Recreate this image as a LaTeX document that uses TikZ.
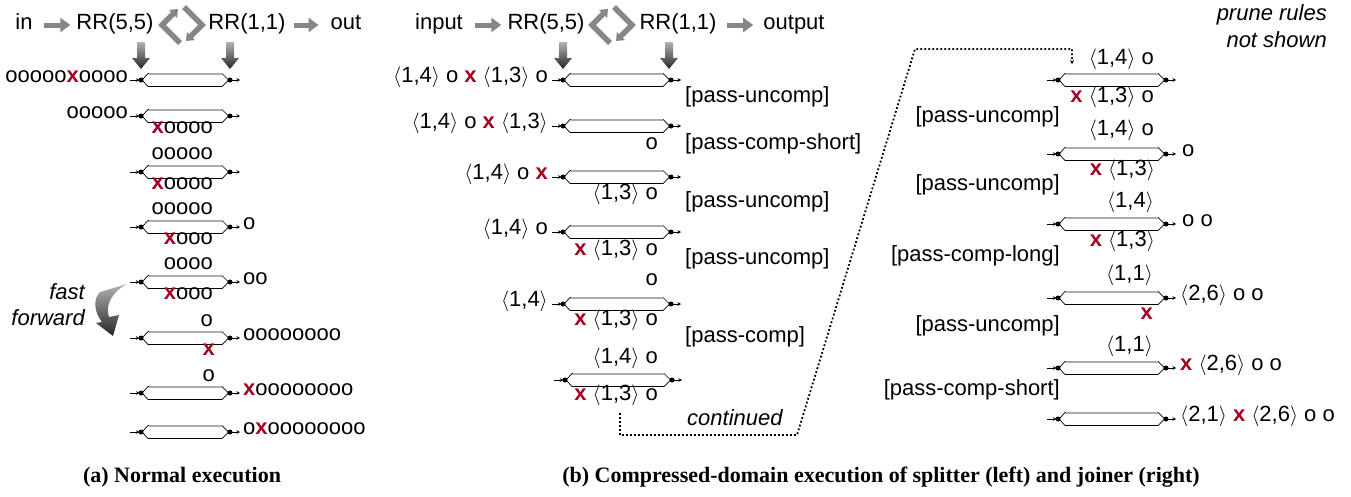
\documentclass[tikz,border=0pt]{standalone}
\usepackage{fontspec}
\setmainfont{Liberation Sans}
\newfontfamily\capfont{Liberation Serif}
\usetikzlibrary{arrows.meta,calc}
\definecolor{xred}{HTML}{A50021}
\newcommand\xx{\textcolor{xred}{\textbf{x}}}
\newcommand\ab[1]{$\langle$#1$\rangle$}
\tikzset{
  every node/.style={inner sep=0pt,font=\fontsize{22}{26}\selectfont},
  lt/.style={anchor=mid east},
  rt/.style={anchor=mid west},
  ttl/.style={anchor=mid},
  itl/.style={anchor=mid east,font=\fontsize{22}{26}\selectfont\itshape},
  captext/.style={anchor=mid,font=\fontsize{22}{26}\selectfont\capfont\bfseries},
  garrow/.style={draw=gray!95, line width=5pt, -{Triangle[length=10pt,width=14pt]}},
  tinyarrow/.style={line width=0.6pt,-{Stealth[length=3.5pt,width=3.5pt]}},
  hexline/.style={draw=black,line width=0.7pt,fill=white},
  dotline/.style={line width=1.8pt,dash pattern={on 1.8pt off 2.2pt}},
  pipe/.pic={
    \coordinate (-l) at (0,0);
    \coordinate (-r) at (#1,0);
    \draw[hexline] (1,0) -- (7,-6.5) -- (#1-8,-6.5) -- (#1-1.5,0) -- (#1-8,6.5) -- (7,6.5) -- cycle;
    \draw[gray!65,line width=1.6pt] (7.5,-6) -- (#1-8.5,-6);
    \draw[tinyarrow] (-11,0) -- (-1.5,0);
    \draw[tinyarrow] (-r) -- (#1+10,0);
    \fill (-l) circle (2.5pt);
    \fill (-r) circle (2.5pt);
  },
  dnarrow/.pic={
    \shade[top color=gray!60,bottom color=black!85] (-4,0) -- (4,0) -- (4,16) -- (9,16) -- (0,27) -- (-9,16) -- (-4,16) -- cycle;
  },
  cycicon/.pic={
    \draw[gray!95,line width=5.5pt,-{Triangle[length=7pt,width=11pt]}] (-2,18) -- (-20,0) -- (-4,-16);
    \draw[gray!95,line width=5.5pt,-{Triangle[length=7pt,width=11pt]}] (2,-18) -- (20,0) -- (4,16);
  }
}
\begin{document}
\begin{tikzpicture}[x=1pt,y=-1pt]
\useasboundingbox (0,0) rectangle (1351,496);

% ---------------- panel (a) ----------------
\node[ttl] (ain) at (24,27) {in};
\node[ttl] (arr5) at (115,27) {RR(5,5)};
\pic at (182,25) {cycicon};
\node[ttl] (arr1) at (247,27) {RR(1,1)};
\node[ttl] (aout) at (346,27) {out};
\draw[garrow,shorten <=11pt,shorten >=6pt] ([yshift=2pt]ain.mid east) -- ([yshift=2pt]arr5.mid west);
\draw[garrow,shorten <=8pt,shorten >=12pt] ([yshift=2pt]arr1.mid east) -- ([yshift=2pt]aout.mid west);

\pic (a1) at (141,80) {pipe=89};
\pic (a2) at (141,116) {pipe=89};
\pic (a3) at (141,172) {pipe=89};
\pic (a4) at (141,227) {pipe=89};
\pic (a5) at (141,282) {pipe=89};
\pic (a6) at (141,338) {pipe=89};
\pic (a7) at (141,393) {pipe=89};
\pic (a8) at (141,432) {pipe=89};
\pic at ($(a1-l)+(0,-38)$) {dnarrow};
\pic at ($(a1-r)+(0,-38)$) {dnarrow};

\node[lt] (a1L) at (128,80) {ooooo\xx oooo};
\node[lt] (a2L) at (128,116) {ooooo};
\node[lt] (a2B) at (213,131) {\xx oooo};
\node[lt] (a3A) at (213,157) {ooooo};
\node[lt] (a3B) at (213,187) {\xx oooo};
\node[lt] (a4A) at (213,212) {ooooo};
\node[lt] (a4B) at (213,242) {\xx ooo};
\node[rt] (a4R) at (243,227) {o};
\node[lt] (a5A) at (213,267) {oooo};
\node[lt] (a5B) at (213,297) {\xx ooo};
\node[rt] (a5R) at (243,282) {oo};
\node[lt] (a6A) at (213,324) {o};
\node[lt] (a6B) at (215,353) {\xx};
\node[rt] (a6R) at (243,338) {oooooooo};
\node[lt] (a7A) at (215,379) {o};
\node[rt] (a7R) at (243,393) {\xx oooooooo};
\node[rt] (a8R) at (243,432) {o\xx oooooooo};

\node[itl] (ff1) at (85,297) {fast};
\node[itl] (ff2) at (85,323) {forward};
\shade[top color=gray!60,bottom color=black!85]
  (100,292) -- (127,284) .. controls (112,292) and (105,305) .. (109,317)
  -- (119,315) -- (113,336) -- (96,323) -- (102,322)
  .. controls (94,312) and (93,299) .. (100,292) -- cycle;

% ---------------- panel (b) splitter ----------------
\node[ttl] (bin) at (439,27) {input};
\node[ttl] (brr5) at (546,27) {RR(5,5)};
\pic at (612,25) {cycicon};
\node[ttl] (brr1) at (678,27) {RR(1,1)};
\node[ttl] (bout) at (794,27) {output};
\draw[garrow,shorten <=12pt,shorten >=6pt] ([yshift=2pt]bin.mid east) -- ([yshift=2pt]brr5.mid west);
\draw[garrow,shorten <=10pt,shorten >=10pt] ([yshift=2pt]brr1.mid east) -- ([yshift=2pt]bout.mid west);

\pic (b1) at (563,80) {pipe=108};
\pic (b2) at (563,126) {pipe=108};
\pic (b3) at (563,177) {pipe=108};
\pic (b4) at (563,232) {pipe=108};
\pic (b5) at (563,304) {pipe=108};
\pic (b6) at (565,380) {pipe=107};
\pic at ($(b1-l)+(0,-38)$) {dnarrow};
\pic at ($(b1-r)+(-2,-38)$) {dnarrow};

\node[lt] (b1L) at (548,80) {\ab{1,4} o \xx\ \ab{1,3} o};
\node[rt] (b1T) at (685,100) {[pass-uncomp]};
\node[lt] (b2L) at (548,126) {\ab{1,4} o \xx\ \ab{1,3}};
\node[lt] (b2B) at (658,147) {o};
\node[rt] (b2T) at (685,147) {[pass-comp-short]};
\node[lt] (b3L) at (548,177) {\ab{1,4} o \xx};
\node[lt] (b3B) at (658,197) {\ab{1,3} o};
\node[rt] (b3T) at (685,205) {[pass-uncomp]};
\node[lt] (b4L) at (548,232) {\ab{1,4} o};
\node[lt] (b4B) at (658,253) {\xx\ \ab{1,3} o};
\node[rt] (b4T) at (685,262) {[pass-uncomp]};
\node[lt] (b5A) at (658,283) {o};
\node[lt] (b5L) at (548,304) {\ab{1,4}};
\node[lt] (b5B) at (658,323) {\xx\ \ab{1,3} o};
\node[rt] (b5T) at (685,340) {[pass-comp]};
\node[lt] (b6A) at (658,361) {\ab{1,4} o};
\node[lt] (b6B) at (658,398) {\xx\ \ab{1,3} o};
\node[rt,font=\fontsize{22}{26}\selectfont\itshape] (cont) at (687,423) {continued};

% dotted continuation
\coordinate (c0) at (620,413);
\coordinate (c1) at (620,435);
\coordinate (c2) at (797,435);
\coordinate (c3) at (915,49);
\coordinate (c4) at (1072,49);
\coordinate (c5) at (1072,64);
\draw[dotline] (c0) -- (c1) -- (c2) -- (c3) -- (c4) -- (c5);
\draw[-{Stealth[length=4pt,width=4pt]},line width=0.6pt] ($(c5)+(0,-1)$) -- (c5);

% ---------------- panel (b) joiner ----------------
\node[itl] (pr1) at (1327,18) {prune rules};
\node[itl] (pr2) at (1327,45) {not shown};

\pic (c1p) at (1058,80) {pipe=108};
\pic (c2p) at (1058,154) {pipe=108};
\pic (c3p) at (1058,224) {pipe=108};
\pic (c4p) at (1058,298) {pipe=108};
\pic (c5p) at (1058,368) {pipe=108};
\pic (c6p) at (1058,419) {pipe=108};

\node[lt] (c1A) at (1154,62) {\ab{1,4} o};
\node[lt] (c1B) at (1154,100) {\xx\ \ab{1,3} o};
\node[lt] (c1T) at (1060,120) {[pass-uncomp]};
\node[lt] (c2A) at (1154,133) {\ab{1,4} o};
\node[rt] (c2R) at (1182,154) {o};
\node[lt] (c2B) at (1155,173) {\xx\ \ab{1,3}};
\node[lt] (c2T) at (1060,188) {[pass-uncomp]};
\node[lt] (c3A) at (1154,205) {\ab{1,4}};
\node[rt] (c3R) at (1182,224) {o o};
\node[lt] (c3B) at (1155,244) {\xx\ \ab{1,3}};
\node[lt] (c3T) at (1060,259) {[pass-comp-long]};
\node[lt] (c4A) at (1153,278) {\ab{1,1}};
\node[rt] (c4R) at (1180,298) {\ab{2,6} o o};
\node[lt] (c4B) at (1153,317) {\xx};
\node[lt] (c4T) at (1060,329) {[pass-uncomp]};
\node[lt] (c5A) at (1153,349) {\ab{1,1}};
\node[rt] (c5R) at (1180,368) {\xx\ \ab{2,6} o o};
\node[lt] (c5T) at (1060,393) {[pass-comp-short]};
\node[rt] (c6R) at (1180,419) {\ab{2,1} \xx\ \ab{2,6} o o};

% captions
\node[captext] (capa) at (182,480) {(a) Normal execution};
\node[captext] (capb) at (881,480) {(b) Compressed-domain execution of splitter (left) and joiner (right)};
\end{tikzpicture}
\end{document}
